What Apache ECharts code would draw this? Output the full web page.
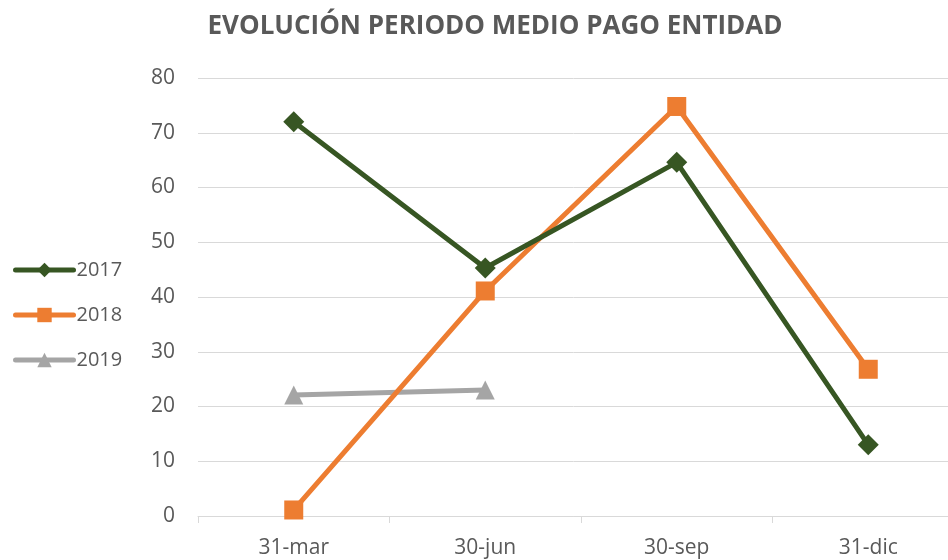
<!DOCTYPE html>
<html><head><meta charset="utf-8">
<script src="https://cdn.jsdelivr.net/npm/echarts@6/dist/echarts.min.js"></script>
<style>html,body{margin:0;padding:0;background:#fff}#c{width:948px;height:560px}</style>
</head><body><div id="c"></div>
<script>
const titleText = 'EVOLUCIÓN PERIODO MEDIO PAGO ENTIDAD';
const categories = ['31-mar', '30-jun', '30-sep', '31-dic'];
const s2017 = [72, 45.3, 64.6, 13];
const s2018 = [1.1, 41.1, 74.8, 26.8];
const s2019 = [22.1, 23, null, null];
const seriesNames = ['2017', '2018', '2019'];

const chart = echarts.init(document.getElementById('c'));
const font = 'Open Sans';
chart.setOption({
  animation: false,
  title: {
    text: titleText, left: 490, top: 9, textAlign: 'center',
    textStyle: {fontFamily: font, fontWeight: 'bold', fontSize: 26, color: '#595959'}
  },
  legend: {
    orient: 'vertical', left: 8, top: 255, itemGap: 25, itemWidth: 58, itemHeight: 18,
    data: seriesNames,
    lineStyle: {width: 5, cap: 'round'},
    textStyle: {fontFamily: font, fontSize: 20, color: '#595959', padding: [0,0,0,-2]}
  },
  grid: {left: 198, width: 766, top: 78, bottom: 44, containLabel: false, outerBoundsMode: 'none'},
  xAxis: {
    type: 'category', data: categories, boundaryGap: true,
    axisLine: {lineStyle: {color: '#d9d9d9', width: 1}},
    axisTick: {show: true, length: 7, lineStyle: {color: '#d9d9d9'}},
    axisLabel: {fontFamily: font, fontSize: 21, color: '#595959', margin: 22}
  },
  yAxis: {
    type: 'value', min: 0, max: 80, interval: 10,
    axisLine: {show: false}, axisTick: {show: false},
    splitLine: {lineStyle: {color: '#d9d9d9', width: 1}},
    axisLabel: {fontFamily: font, fontSize: 21, color: '#595959', margin: 23}
  },
  series: [
    {name: seriesNames[0], type: 'line', data: s2017, symbol: 'diamond', symbolSize: 21,
     lineStyle: {width: 5, color: '#375623'}, itemStyle: {color: '#375623'}, z: 3},
    {name: seriesNames[1], type: 'line', data: s2018, symbol: 'rect', symbolSize: 19,
     lineStyle: {width: 5, color: '#ed7d31'}, itemStyle: {color: '#ed7d31'}, z: 2},
    {name: seriesNames[2], type: 'line', data: s2019, symbol: 'triangle', symbolSize: 19,
     lineStyle: {width: 5, color: '#a5a5a5'}, itemStyle: {color: '#a5a5a5'}, z: 1}
  ]
});
</script></body></html>
